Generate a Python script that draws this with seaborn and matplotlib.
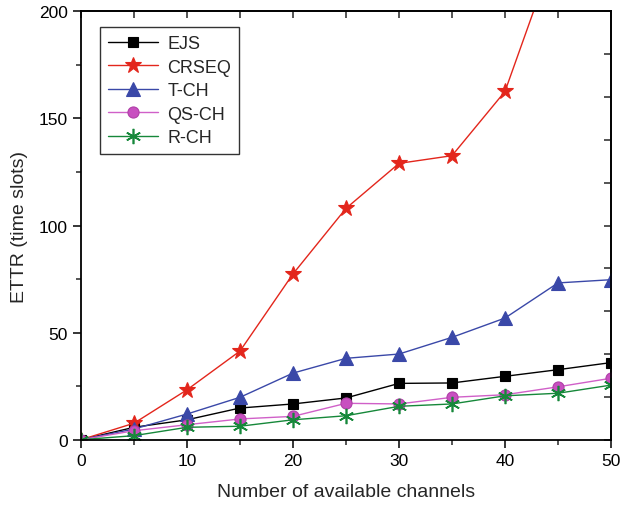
import matplotlib
matplotlib.use("Agg")
import matplotlib.pyplot as plt
import seaborn as sns
import pandas as pd
from matplotlib.ticker import MultipleLocator

channels = [0, 5, 10, 15, 20, 25, 30, 35, 40, 45, 50]
ejs = [0, 5.8, 9.3, 14.8, 16.7, 19.5, 26.3, 26.5, 29.6, 32.7, 36.0]
crseq = [0, 7.7, 23.3, 41.4, 77.4, 108.0, 129.0, 132.6, 162.6, 232.0, 280.0]
tch = [0, 5.0, 12.0, 19.8, 31.1, 38.0, 40.0, 47.8, 56.8, 73.2, 74.7]
qsch = [0, 4.2, 7.0, 9.7, 10.9, 17.0, 16.7, 19.8, 21.0, 24.7, 28.7]
rch = [0, 1.9, 5.8, 6.3, 9.3, 11.2, 15.6, 16.7, 20.5, 21.7, 25.5]

series = {"EJS": ejs, "CRSEQ": crseq, "T-CH": tch, "QS-CH": qsch, "R-CH": rch}

sns.set_style("white")
plt.rcParams['font.family'] = ['Liberation Sans', 'DejaVu Sans']

fig = plt.figure(figsize=(6.25, 5.06), dpi=100)
ax = fig.add_axes([0.1296, 0.129, 0.848, 0.8467])

styles = {
    "EJS": dict(color="black", marker="s", markersize=7.5, mfc="black", mec="black"),
    "CRSEQ": dict(color="#e3261c", marker="*", markersize=12, mfc="#e3261c", mec="#e3261c"),
    "T-CH": dict(color="#3a48a8", marker="^", markersize=9.5, mfc="#3a48a8", mec="#3a48a8"),
    "QS-CH": dict(color="#d060c8", marker="o", markersize=8, mfc="#c84fc0", mec="#b040a8"),
    "R-CH": dict(color="#16883a", marker=(6, 2, 0), markersize=11, mfc="#16883a", mec="#16883a", mew=1.2),
}

for name, vals in series.items():
    df = pd.DataFrame({"x": channels, "y": vals})
    st = styles[name]
    sns.lineplot(data=df, x="x", y="y", ax=ax, label=name, linewidth=1.0,
                 color=st["color"], marker=st["marker"], markersize=st["markersize"],
                 markerfacecolor=st["mfc"], markeredgecolor=st["mec"],
                 markeredgewidth=st.get("mew", 0.8), clip_on=True)

ax.set_xlim(0, 50)
ax.set_ylim(0, 200)
ax.xaxis.set_major_locator(MultipleLocator(10))
ax.xaxis.set_minor_locator(MultipleLocator(5))
ax.yaxis.set_major_locator(MultipleLocator(50))
ax.yaxis.set_minor_locator(MultipleLocator(25))
ax.tick_params(axis='both', which='major', direction='out', length=6, width=1.1,
               labelsize=12.5, colors='black', bottom=True, left=True, top=False, right=False)
ax.tick_params(axis='both', which='minor', direction='out', length=3.5, width=1.1,
               bottom=True, left=True, top=False, right=False)

for sp in ax.spines.values():
    sp.set_linewidth(1.3)
    sp.set_color("black")

top = ax.secondary_xaxis('top')
top.xaxis.set_major_locator(MultipleLocator(5))
top.tick_params(direction='in', length=5, width=1.1, labeltop=False)
top.spines['top'].set_linewidth(1.3)
right = ax.secondary_yaxis('right')
right.yaxis.set_major_locator(MultipleLocator(20))
right.tick_params(direction='in', length=5, width=1.1, labelright=False)
right.spines['right'].set_linewidth(1.3)

ax.set_xlabel("Number of available channels", fontsize=14, labelpad=11)
ax.set_ylabel("ETTR (time slots)", fontsize=14, labelpad=8)

leg = ax.legend(loc='upper left', bbox_to_anchor=(0.035, 0.963), borderaxespad=0,
                fontsize=13, frameon=True, fancybox=False, edgecolor='black',
                handlelength=2.8, borderpad=0.45, labelspacing=0.36, handletextpad=0.5)
leg.get_frame().set_linewidth(1.0)

fig.savefig("out.png", dpi=100)
